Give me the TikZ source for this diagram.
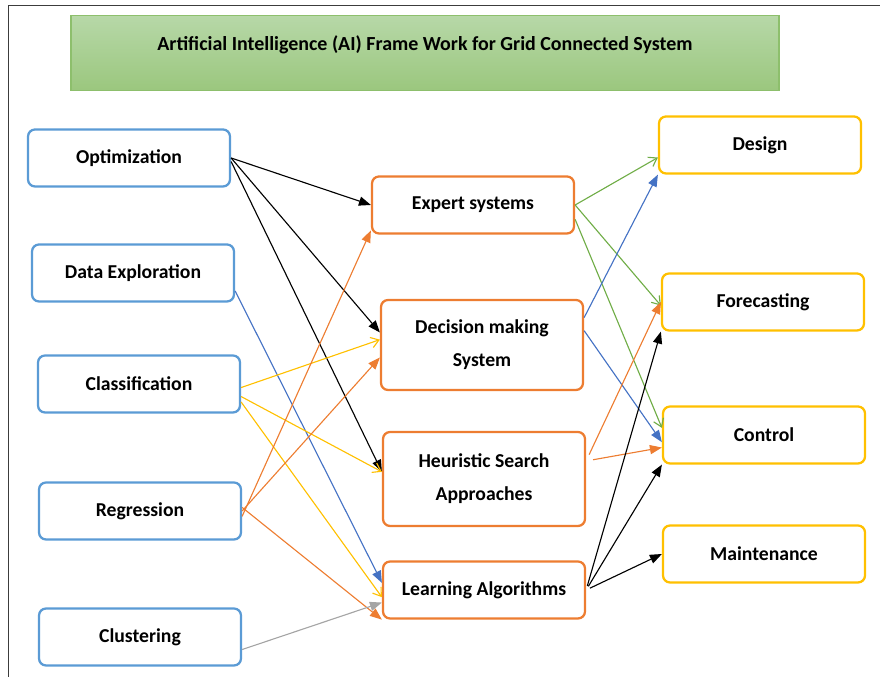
\documentclass[tikz,border=0pt]{standalone}
\usepackage{fontspec}
\setmainfont{Carlito}
\usetikzlibrary{arrows.meta}

\definecolor{boxblue}{HTML}{5B9BD5}
\definecolor{boxorange}{HTML}{ED7D31}
\definecolor{boxyellow}{HTML}{FFC000}
\definecolor{arrgreen}{HTML}{70AD47}
\definecolor{arrblue}{HTML}{4472C4}
\definecolor{arrgray}{HTML}{A5A5A5}
\definecolor{titletop}{HTML}{B7D8A8}
\definecolor{titlebot}{HTML}{9BC77E}
\definecolor{titleline}{HTML}{8DBF6C}
\definecolor{frameline}{HTML}{3C3C3C}

\tikzset{
  box/.style={draw, line width=1.6pt, rounded corners=5pt, fill=white,
    minimum width=5.05cm, minimum height=1.425cm, align=center,
    font=\fontsize{14}{23.5}\selectfont\bfseries},
  inbox/.style={box, draw=boxblue},
  midbox/.style={box, draw=boxorange},
  outbox/.style={box, draw=boxyellow},
  fulltip/.style={line width=0.8pt, -{Triangle[length=8.5pt,width=6.5pt]}},
  bartip/.style={line width=0.8pt, -{Straight Barb[length=5.5pt,width=7.5pt]}}
}

\begin{document}
\begin{tikzpicture}
\useasboundingbox (0,0) rectangle (22,16.925);
\draw[frameline, line width=1.1pt] (0.21,0) -- (0.21,16.79) -- (22,16.79);

\node[draw=titleline, line width=0.8pt, top color=titletop, bottom color=titlebot,
  minimum width=17.7cm, minimum height=1.875cm, text height=0.35cm, text depth=0.47cm,
  font=\fontsize{14.2}{17}\selectfont\bfseries] (title) at (10.625,15.61)
  {Artificial Intelligence (AI) Frame Work for Grid Connected System};

\node[inbox] (opt) at (3.225,12.975) {Optimization};
\node[inbox] (dat) at (3.325,10.1) {Data Exploration};
\node[inbox] (cls) at (3.475,7.325) {Classification};
\node[inbox] (reg) at (3.5,4.15) {Regression};
\node[inbox] (clu) at (3.5,1.0) {Clustering};

\node[midbox] (exp) at (11.825,11.8) {Expert systems};
\node[midbox, minimum height=2.25cm] (dec) at (12.05,8.3) {Decision making\\System};
\node[midbox, minimum height=2.35cm] (heu) at (12.1,4.95) {Heuristic Search\\Approaches};
\node[midbox] (lrn) at (12.1,2.175) {Learning Algorithms};

\node[outbox] (des) at (19.0,13.3) {Design};
\node[outbox] (frc) at (19.075,9.375) {Forecasting};
\node[outbox] (ctl) at (19.1,6.05) {Control};
\node[outbox] (mnt) at (19.1,3.075) {Maintenance};

\draw[fulltip] (opt.east) -- (exp.west);
\draw[fulltip] (opt.east) -- (dec.173);
\draw[fulltip] (opt.-2) -- (heu.176);
\draw[fulltip, arrblue] (dat.-10) -- (lrn.176);
\draw[bartip, boxyellow] (cls.-2) -- (dec.177);
\draw[bartip, boxyellow] (cls.-7) -- (heu.176);
\draw[bartip, boxyellow] (cls.-10) -- (lrn.184);
\draw[fulltip, boxorange] (reg.-3) -- (exp.194);
\draw[fulltip, boxorange] (reg.east) -- (dec.187);
\draw[fulltip, boxorange] (reg.2) -- (lrn.south west);
\draw[fulltip, arrgray] (clu.-7) -- (lrn.187);

\draw[bartip, arrgreen] (exp.east) -- (des.187);
\draw[bartip, arrgreen] (exp.east) -- (frc.182);
\draw[bartip, arrgreen] (exp.-8) -- (ctl.176);
\draw[fulltip, arrblue] (dec.15) -- (des.south west);
\draw[fulltip, arrblue] (dec.8) -- (ctl.184);
\draw[fulltip, boxorange, shorten <=5pt] (heu.10) -- (frc.west);
\draw[fulltip, boxorange, shorten <=5pt] (heu.10) -- (ctl.187);
\draw[fulltip, shorten <=3pt] (lrn.east) -- (frc.south west);
\draw[fulltip, shorten <=3pt] (lrn.east) -- (ctl.south west);
\draw[fulltip, shorten <=3pt] (lrn.east) -- (mnt.west);
\end{tikzpicture}
\end{document}
